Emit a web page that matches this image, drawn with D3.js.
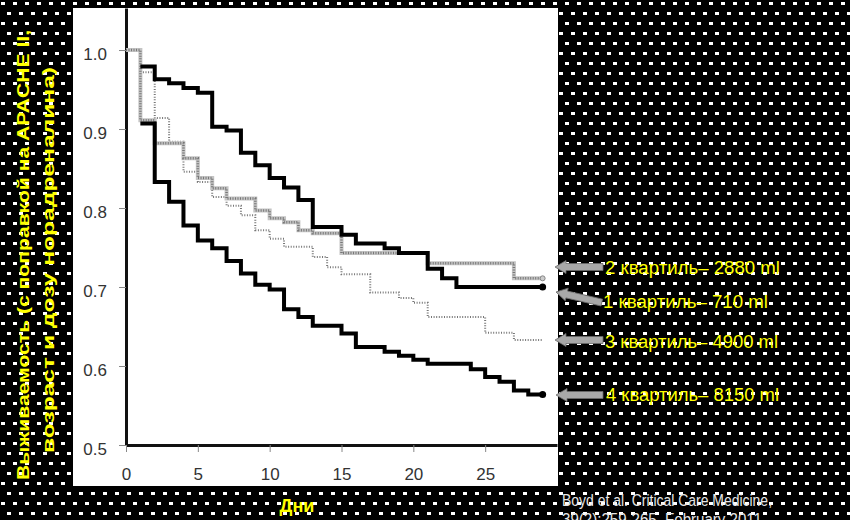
<!DOCTYPE html>
<html><head><meta charset="utf-8">
<script src="https://cdn.jsdelivr.net/npm/d3@7"></script>
<style>body{margin:0;background:#000}svg{display:block}</style>
</head><body><svg id="c" width="850" height="520"></svg>
<script>
// ---- data (survival by day) ----
const days = d3.range(0, 30);
const q1 = [null, 0.979, 0.963, 0.958, 0.952, 0.946, 0.903, 0.898, 0.870, 0.854, 0.838, 0.826, 0.810, 0.776, 0.776, 0.766, 0.755, 0.755, 0.749, 0.743, 0.743, 0.723, 0.711, 0.700, 0.700, 0.700, 0.700, 0.700, 0.700, 0.700];
const q2 = [1.0, 0.911, 0.882, 0.882, 0.863, 0.838, 0.825, 0.812, 0.812, 0.797, 0.787, 0.782, 0.772, 0.768, 0.768, 0.743, 0.743, 0.743, 0.743, 0.743, 0.743, 0.730, 0.730, 0.730, 0.730, 0.730, 0.730, 0.711, 0.711, 0.711];
const q3 = [1.0, 0.972, 0.914, 0.884, 0.846, 0.833, 0.814, 0.803, 0.791, 0.772, 0.761, 0.751, 0.751, 0.738, 0.725, 0.716, 0.716, 0.693, 0.693, 0.686, 0.680, 0.662, 0.662, 0.662, 0.662, 0.642, 0.642, 0.633, 0.633, 0.633];
const q4 = [null, 0.907, 0.833, 0.808, 0.778, 0.759, 0.749, 0.733, 0.717, 0.703, 0.697, 0.672, 0.662, 0.651, 0.651, 0.641, 0.624, 0.624, 0.618, 0.613, 0.608, 0.603, 0.603, 0.603, 0.596, 0.586, 0.580, 0.569, 0.564, 0.564];
const xTicks = [0, 5, 10, 15, 20, 25];
const yTicks = [0.5, 0.6, 0.7, 0.8, 0.9, 1.0];
const legendLabels = ["2 квартиль– 2880 ml", "1 квартиль– 710 ml", "3 квартиль– 4900 ml", "4 квартиль– 8150 ml"];
const yTitle = ["Выживаемость (с поправкой на APACHE II,", "возраст и дозу норадреналина)"];
const xTitle = "Дни";
const citation = ["Boyd et al. Critical Care Medicine,", "39(2):259-265, February 2011"];

// ---- drawing ----
const svg = d3.select("#c");
const defs = svg.append("defs");
const pat = defs.append("pattern").attr("id", "dots").attr("width", 12).attr("height", 20).attr("patternUnits", "userSpaceOnUse");
pat.append("rect").attr("width", 12).attr("height", 20).attr("fill", "#000");
pat.append("rect").attr("x", 1).attr("y", 2).attr("width", 4).attr("height", 3).attr("fill", "#fff");
pat.append("rect").attr("x", 7).attr("y", 12).attr("width", 4).attr("height", 3).attr("fill", "#fff");
svg.append("rect").attr("width", 850).attr("height", 520).attr("fill", "url(#dots)");
svg.append("rect").attr("x", 73).attr("y", 8).attr("width", 485).attr("height", 478).attr("fill", "#fff");

const x = d3.scaleLinear().domain([0, 30]).range([126, 557]);
const y = d3.scaleLinear().domain([0.5, 1.0532]).range([445, 8]);

const tickFont = "'Liberation Sans Narrow','Arial Narrow','Liberation Sans',Arial,sans-serif";

const gy = svg.append("g").attr("transform", `translate(${x(0)},0)`)
  .call(d3.axisLeft(y).tickValues(yTicks).tickFormat(d3.format(".1f")).tickSize(7).tickSizeOuter(0).tickPadding(12));
gy.select(".domain").attr("stroke", "#111").attr("stroke-width", 3);
gy.selectAll(".tick line").attr("stroke", "#888").attr("stroke-width", 1);
gy.selectAll(".tick text").attr("font-family", tickFont).attr("font-size", 17).attr("fill", "#333").attr("dy", "0.55em");

const gx = svg.append("g").attr("transform", `translate(0,${y(0.5)})`)
  .call(d3.axisBottom(x).tickValues(xTicks).tickSize(7).tickSizeOuter(0).tickPadding(16));
gx.select(".domain").attr("stroke", "#111").attr("stroke-width", 3);
gx.selectAll(".tick line").attr("stroke", "#888").attr("stroke-width", 1);
gx.selectAll(".tick text").attr("font-family", tickFont).attr("font-size", 17).attr("fill", "#333");

const line = d3.line().defined(d => d.v != null).x(d => x(d.day)).y(d => y(d.v)).curve(d3.curveStepAfter);
const ser = arr => days.map((d, i) => ({ day: d, v: arr[i] }));

// Q3 light dotted
svg.append("path").attr("d", line(ser(q3))).attr("fill", "none").attr("stroke", "#777").attr("stroke-width", 2).attr("stroke-dasharray", "1,1.6");
// Q2 gray textured
svg.append("path").attr("d", line(ser(q2))).attr("fill", "none").attr("stroke", "#c4c4c4").attr("stroke-width", 4);
svg.append("path").attr("d", line(ser(q2))).attr("fill", "none").attr("stroke", "#777").attr("stroke-width", 2.5).attr("stroke-dasharray", "1,1.5");
// Q1, Q4 black
svg.append("path").attr("d", line(ser(q1))).attr("fill", "none").attr("stroke", "#000").attr("stroke-width", 4);
svg.append("path").attr("d", line(ser(q4))).attr("fill", "none").attr("stroke", "#000").attr("stroke-width", 4);

svg.append("circle").attr("cx", x(29)).attr("cy", y(q1[29])).attr("r", 3.5).attr("fill", "#000");
svg.append("circle").attr("cx", x(29)).attr("cy", y(q4[29])).attr("r", 3.5).attr("fill", "#000");
svg.append("circle").attr("cx", x(29)).attr("cy", y(q2[29])).attr("r", 2.5).attr("fill", "#ccc").attr("stroke", "#888");

// legend arrows + labels
const legendLayout = [
  { tx: 555, ty: 267, ang: 0, textX: 605, cy: 267, len: 48, tl: 175 },
  { tx: 556, ty: 292, ang: 13, textX: 603, cy: 301, len: 47, tl: 165 },
  { tx: 555, ty: 340, ang: 0, textX: 605, cy: 341, len: 48, tl: 173 },
  { tx: 556, ty: 395, ang: 0, textX: 606, cy: 394, len: 47, tl: 173 }
];
const arrowShape = L => [[0,0],[11,-6.5],[11,-3.5],[L,-3.5],[L,3.5],[11,3.5],[11,6.5]].map(p => p.join(",")).join(" ");
legendLabels.forEach((lab, i) => {
  const l = legendLayout[i];
  svg.append("polygon").attr("points", arrowShape(l.len))
    .attr("transform", `translate(${l.tx},${l.ty}) rotate(${l.ang})`)
    .attr("fill", "#a8a8a8").attr("stroke", "#6a6a6a").attr("stroke-width", 0.8);
  svg.append("text").attr("x", l.textX).attr("y", l.cy + 6.5)
    .attr("font-family", "'Liberation Sans',Arial,sans-serif").attr("font-size", 18).attr("fill", "#ffff00")
    .attr("textLength", l.tl).attr("lengthAdjust", "spacingAndGlyphs")
    .text(lab);
});

// y title
const yt = [{ x: 23, c: 255, len: 450 }, { x: 48, c: 260, len: 386 }];
yTitle.forEach((t, i) => {
  svg.append("text").attr("transform", `translate(${yt[i].x},${yt[i].c}) rotate(-90)`)
    .attr("text-anchor", "middle").attr("dominant-baseline", "central")
    .attr("font-family", "'Liberation Sans',Arial,sans-serif").attr("font-weight", "bold").attr("font-size", 16)
    .attr("fill", "#ffff00").attr("textLength", yt[i].len).attr("lengthAdjust", "spacingAndGlyphs").text(t);
});

// x title
svg.append("text").attr("x", 297).attr("y", 512).attr("text-anchor", "middle")
  .attr("font-family", "'Liberation Sans',Arial,sans-serif").attr("font-weight", "bold").attr("font-size", 18)
  .attr("fill", "#ffff00").text(xTitle);

// citation
citation.forEach((t, i) => {
  svg.append("text").attr("x", 562).attr("y", 506 + i * 19)
    .attr("font-family", "'Liberation Sans',Arial,sans-serif").attr("font-size", 16)
    .attr("fill", "#e6e6e6").attr("textLength", i === 0 ? 210 : 200).attr("lengthAdjust", "spacingAndGlyphs").text(t);
});
</script></body></html>
